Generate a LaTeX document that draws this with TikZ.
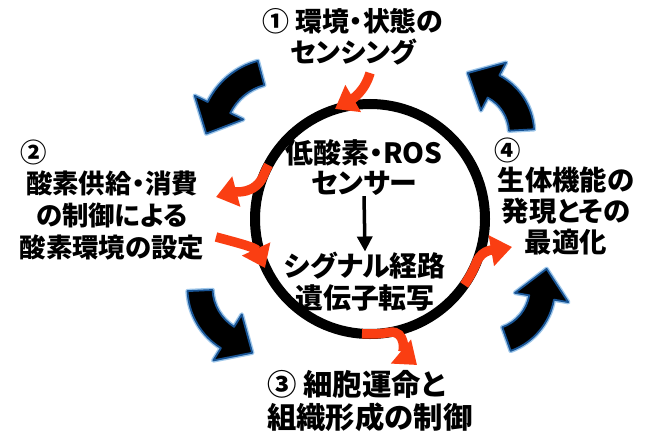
\documentclass[tikz,border=0pt]{standalone}
\usepackage{fontspec}
\setmainfont{Noto Sans CJK JP}[RawFeature=+palt]
\usetikzlibrary{arrows.meta,calc}
\definecolor{redo}{RGB}{250,62,18}
\definecolor{edgeblue}{RGB}{25,85,150}
\definecolor{glowblue}{RGB}{160,200,235}
\tikzset{
  lbl/.style={font=\bfseries\fontsize{26.5}{32}\selectfont, align=center, inner sep=0pt},
  redarr/.style={draw=redo, line width=9.5bp, -{Triangle[width=30bp,length=21bp]}},
  glowst/.style={draw=glowblue, line width=4.5bp, line join=round},
  bodyst/.style={fill=black, draw=edgeblue, line width=1.8bp, line join=round},
}
\newcommand\swoosh[5]{%
  \pgfmathsetmacro\swro{#3+12.5}%
  \pgfmathsetmacro\swri{#3-12.5}%
  \pgfmathsetmacro\swho{#3+27}%
  \pgfmathsetmacro\swhi{#3-27}%
  \pgfmathsetmacro\swta{#5+90}%
  \draw[glowst] ($(#1,#2)+(#4:\swro)$) arc[start angle=#4,end angle=#5,radius=\swro]
    -- ($(#1,#2)+(#5:\swho)$) -- ($(#1,#2)+(#5:#3)+(\swta:29)$) -- ($(#1,#2)+(#5:\swhi)$)
    -- ($(#1,#2)+(#5:\swri)$) arc[start angle=#5,end angle=#4,radius=\swri] -- cycle;
  \draw[bodyst] ($(#1,#2)+(#4:\swro)$) arc[start angle=#4,end angle=#5,radius=\swro]
    -- ($(#1,#2)+(#5:\swho)$) -- ($(#1,#2)+(#5:#3)+(\swta:29)$) -- ($(#1,#2)+(#5:\swhi)$)
    -- ($(#1,#2)+(#5:\swri)$) arc[start angle=#5,end angle=#4,radius=\swri] -- cycle;
}
\begin{document}
\begin{tikzpicture}[x=1bp,y=1bp]
\useasboundingbox[fill=white] (0,0) rectangle (648,432);

% black curved arrows
\swoosh{277.9}{295.6}{65.6}{104.9}{153.9}
\swoosh{469.1}{299.0}{52.5}{3.3}{62.3}
\swoosh{258.2}{144}{58.2}{182.5}{238.2}
\swoosh{488.4}{143.8}{54}{289.6}{350.1}

% main ring
\coordinate (C) at (370,213);
\draw[line width=10bp] (C) circle[radius=115];

% red arrows
\draw[redarr] (370,359) to[out=254,in=30] (335,323);
\draw[redarr] ($(C)+(152:115)$) arc[start angle=152,end angle=158,radius=115] to[out=246,in=15] (216,235);
\draw[redarr] (216,195) to[out=345,in=115] (265,164);
\draw[redarr] ($(C)+(266:115)$) arc[start angle=266,end angle=280,radius=115] to[out=8,in=140] (417,67);
\draw[redarr] ($(C)+(325:115)$) arc[start angle=325,end angle=338,radius=115] to[out=68,in=190] (512,185);

% texts
\node[lbl, font=\bfseries\fontsize{27}{31}\selectfont] (t1) at (353,395.5) {① 環境・状態の\\センシング};
\node[lbl, anchor=west] (n2) at (20,280) {②};
\node[lbl, font=\bfseries\fontsize{26.5}{32.5}\selectfont] (t2) at (112,216.5) {酸素供給・消費\\の制御による\\酸素環境の設定};
\node[lbl, anchor=west] (n4) at (494,282) {④};
\node[lbl, font=\bfseries\fontsize{27.5}{31}\selectfont] (t4) at (566,221) {生体機能の\\発現とその\\最適化};
\node[lbl, align=left, anchor=west, font=\bfseries\fontsize{29.5}{33}\selectfont] (t3) at (267,31) {③ 細胞運命と\\組織形成の制御};
\node[lbl, font=\bfseries\fontsize{28}{30.5}\selectfont] (cs) at (364,264.25) {低酸素・ROS\\センサー};
\node[lbl, font=\bfseries\fontsize{28}{32}\selectfont] (sg) at (365,150.75) {シグナル経路\\遺伝子転写};
\draw[line width=3.5bp, -{Triangle[width=15bp,length=15bp]}] (cs.south) -- (sg.north);
\end{tikzpicture}
\end{document}
